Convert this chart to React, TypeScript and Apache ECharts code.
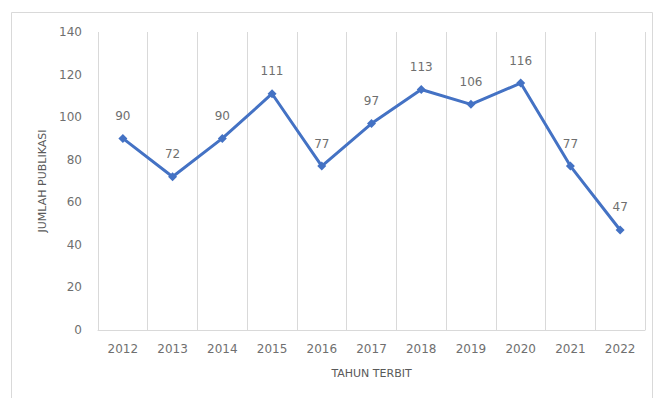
import React, { useEffect, useRef } from "react";
import * as echarts from "echarts";

const years = ["2012", "2013", "2014", "2015", "2016", "2017", "2018", "2019", "2020", "2021", "2022"];
const publications = [90, 72, 90, 111, 77, 97, 113, 106, 116, 77, 47];
const yTicks = { min: 0, max: 140, interval: 20 };

export default function App() {
  const ref = useRef<HTMLDivElement>(null);
  useEffect(() => {
    if (!ref.current) return;
    const chart = echarts.init(ref.current, null, { renderer: "svg" });
    chart.setOption({
      animation: false,
      backgroundColor: "#ffffff",
      textStyle: { fontFamily: "DejaVu Sans" },
      graphic: [
        {
          type: "rect",
          shape: { x: 11.5, y: 12.5, width: 641, height: 400 },
          style: { fill: "none", stroke: "#d9d9d9", lineWidth: 1 },
          silent: true,
        },
      ],
      grid: { left: 98, right: 10, top: 32, bottom: 68 },
      xAxis: {
        type: "category",
        data: years,
        boundaryGap: true,
        name: "TAHUN TERBIT",
        nameLocation: "middle",
        nameGap: 38,
        nameTextStyle: { color: "#595959", fontSize: 11 },
        axisLine: { show: true, lineStyle: { color: "#d9d9d9", width: 1 } },
        axisTick: { show: false },
        axisLabel: { color: "#6f6f6f", fontSize: 12, margin: 13 },
        splitLine: { show: true, lineStyle: { color: "#d9d9d9", width: 1 } },
      },
      yAxis: {
        type: "value",
        min: yTicks.min,
        max: yTicks.max,
        interval: yTicks.interval,
        name: "JUMLAH PUBLIKASI",
        nameLocation: "middle",
        nameGap: 47,
        nameRotate: 90,
        nameTextStyle: { color: "#595959", fontSize: 11 },
        axisLine: { show: false },
        axisTick: { show: false },
        axisLabel: { color: "#6f6f6f", fontSize: 12, margin: 16 },
        splitLine: { show: false },
      },
      series: [
        {
          type: "line",
          data: publications,
          symbol: "diamond",
          symbolSize: 9,
          itemStyle: { color: "#4472C4" },
          lineStyle: { color: "#4472C4", width: 3 },
          label: {
            show: true,
            position: "top",
            distance: 12,
            color: "#6f6f6f",
            fontSize: 12,
          },
        },
      ],
    });
    return () => chart.dispose();
  }, []);
  return (
    <div
      ref={ref}
      style={{ position: "fixed", left: 0, top: 0, width: 655, height: 398 }}
    />
  );
}
